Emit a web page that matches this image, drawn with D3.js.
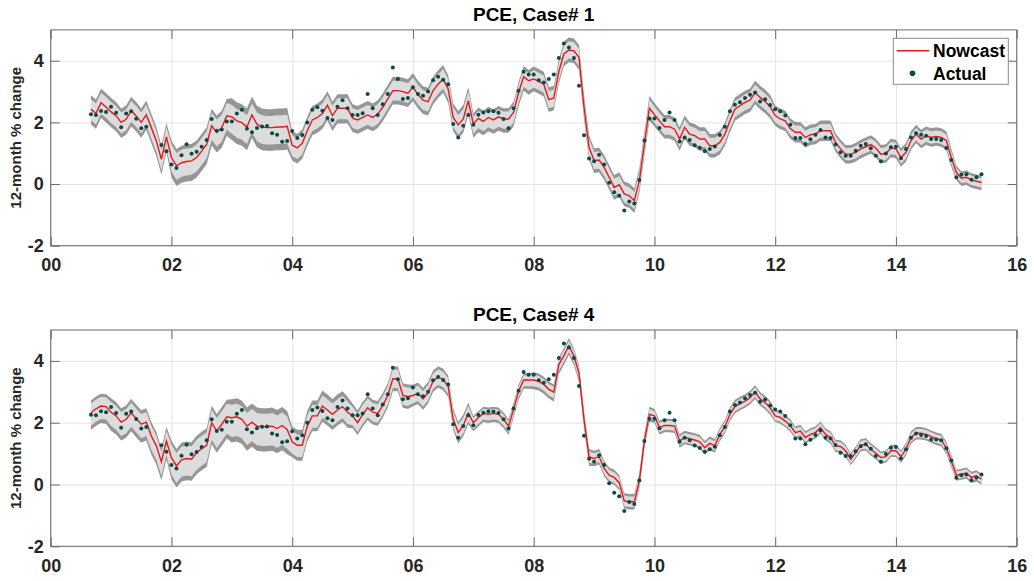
<!DOCTYPE html>
<html><head><meta charset="utf-8">
<script src="https://cdn.jsdelivr.net/npm/d3@7"></script>
<style>
body{margin:0;background:#fff}
svg{font-family:"Liberation Sans",Arial,Helvetica,sans-serif}
</style></head>
<body><svg id="c" width="1034" height="581"></svg>
<script>
// Monthly data, Sep 2000 .. Jun 2015
const startMonth = 8; // months after Jan 2000 (Sep 2000)
const actual = [
 2.26,2.24,2.37,2.34,
 2.51,2.31,1.84,2.29,2.36,2.12,1.81,1.86,null,null,1.27,1.06,
 0.63,0.52,0.93,1.29,0.98,1.05,1.21,1.43,2.11,1.73,1.77,2.03,
 2.03,2.29,2.41,1.79,1.68,1.82,1.87,1.88,1.65,1.60,1.37,1.40,
 1.72,1.49,1.59,2.00,2.41,2.49,2.38,2.14,2.08,2.51,2.72,2.46,
 2.24,2.24,2.30,2.92,2.46,2.24,2.59,2.92,3.78,3.41,2.76,2.79,
 3.14,2.92,2.86,3.00,3.37,3.48,3.38,3.24,1.95,1.51,1.89,2.24,
 1.92,2.25,2.32,2.36,2.36,2.31,2.11,1.81,2.46,3.03,3.64,3.55,
 3.55,3.37,3.29,3.41,3.55,4.09,4.56,4.43,4.09,3.19,1.58,0.83,
 0.74,0.95,0.63,0.04,-0.27,-0.38,-0.86,-0.57,-0.63,0.13,1.41,2.13,
 2.13,1.82,2.08,2.32,2.08,1.38,1.51,1.43,1.26,1.18,1.06,1.14,
 1.22,1.59,1.86,2.36,2.57,2.65,2.79,2.90,2.97,2.68,2.75,2.56,
 2.43,2.36,2.22,1.92,1.49,1.49,1.30,1.45,1.60,1.75,1.51,1.49,
 1.28,1.03,0.92,0.92,1.08,1.24,1.30,1.16,0.92,0.74,0.99,1.19,
 1.21,0.84,1.14,1.51,1.65,1.60,1.57,1.46,1.46,1.43,1.17,0.78,
 0.22,0.30,0.32,0.14,0.22,0.32
];
const nowcast1 = [
 2.43,2.29,2.64,2.50,
 2.34,2.21,2.00,2.10,2.37,2.21,2.00,2.25,1.83,1.40,0.80,1.53,
 0.86,0.59,0.69,0.73,0.75,0.86,1.07,1.29,1.89,1.67,1.83,2.21,
 2.18,2.05,1.99,1.85,2.24,1.94,1.85,1.83,1.83,1.85,1.85,1.87,
 1.26,1.17,1.32,1.73,2.08,2.16,2.29,2.56,2.22,2.46,2.46,2.46,
 2.14,2.08,2.16,2.24,2.16,2.27,2.49,2.76,3.03,3.03,3.00,2.95,
 3.14,2.90,2.72,2.67,3.03,3.24,3.41,3.08,2.16,1.92,2.11,2.70,
 1.95,2.13,2.03,2.16,2.08,2.18,2.11,2.11,2.32,2.97,3.48,3.35,
 3.41,3.33,3.24,2.74,2.79,3.65,4.22,4.35,4.32,4.11,2.49,1.19,
 0.76,0.78,0.54,0.22,-0.11,-0.02,-0.32,-0.38,-0.54,0.11,1.30,2.46,
 2.25,2.05,1.86,1.86,1.78,1.46,1.84,1.62,1.57,1.46,1.46,1.24,
 1.24,1.35,1.62,2.05,2.43,2.54,2.65,2.72,2.97,2.81,2.68,2.51,
 2.22,2.11,2.05,1.80,1.68,1.68,1.51,1.60,1.62,1.73,1.73,1.73,
 1.35,1.14,0.97,0.97,1.03,1.14,1.21,1.28,1.17,0.97,0.99,1.17,
 1.14,0.86,1.03,1.41,1.62,1.46,1.57,1.51,1.54,1.51,1.41,0.86,
 0.38,0.19,0.22,0.13,0.09,0.05
];
const nowcast4 = [
 2.32,2.45,2.54,2.52,
 2.34,2.22,2.02,2.11,2.32,2.13,1.95,2.02,1.57,1.25,0.73,1.41,
 0.87,0.60,0.80,0.84,0.82,1.03,1.16,1.27,2.00,1.73,1.95,2.19,
 2.16,2.19,2.11,1.89,2.02,1.89,1.87,1.87,1.89,1.81,1.91,1.78,
 1.38,1.27,1.27,1.89,2.22,2.22,2.54,2.41,2.27,2.41,2.52,2.34,
 2.22,2.00,2.27,2.48,2.34,2.30,2.56,2.88,3.42,3.42,2.88,2.84,
 2.88,2.95,2.77,2.97,3.34,3.48,3.40,3.18,2.11,1.68,1.91,2.30,
 2.00,2.16,2.30,2.27,2.30,2.27,2.11,1.89,2.43,3.02,3.38,3.38,
 3.38,3.34,3.24,3.08,2.99,3.88,4.17,4.49,4.15,3.61,2.11,0.90,
 0.84,0.90,0.52,0.30,0.23,0.06,-0.53,-0.56,-0.56,0.12,1.41,2.27,
 2.22,1.84,1.91,1.91,1.89,1.41,1.52,1.48,1.44,1.38,1.19,1.33,
 1.25,1.62,1.87,2.27,2.52,2.62,2.70,2.81,2.99,2.77,2.65,2.48,
 2.22,2.17,2.05,1.91,1.68,1.73,1.52,1.62,1.68,1.84,1.62,1.52,
 1.25,1.23,1.09,0.82,1.03,1.27,1.30,1.14,1.01,0.87,0.90,1.09,
 1.09,0.90,1.14,1.52,1.66,1.66,1.62,1.55,1.48,1.44,1.19,0.76,
 0.30,0.33,0.37,0.23,0.28,0.17
];
// Band offsets from the nowcast, per calendar year 2000..2015
const outerUp1 = [0.45,0.45,0.55,0.60,0.45,0.45,0.45,0.35,0.40,0.40,0.38,0.38,0.33,0.30,0.30,0.22];
const innerUp1 = [0.32,0.32,0.42,0.38,0.32,0.32,0.32,0.24,0.28,0.28,0.26,0.26,0.22,0.20,0.20,0.14];
const innerLo1 = [0.36,0.36,0.45,0.55,0.36,0.32,0.32,0.32,0.28,0.28,0.26,0.26,0.22,0.20,0.20,0.16];
const outerLo1 = [0.50,0.50,0.65,0.75,0.50,0.45,0.45,0.45,0.40,0.40,0.38,0.38,0.33,0.30,0.30,0.25];
const outerUp4 = [0.40,0.45,0.55,0.60,0.50,0.40,0.35,0.22,0.25,0.25,0.22,0.22,0.20,0.20,0.20,0.18];
const innerUp4 = [0.30,0.33,0.42,0.42,0.35,0.30,0.25,0.15,0.17,0.17,0.15,0.15,0.14,0.14,0.14,0.12];
const innerLo4 = [0.42,0.45,0.55,0.62,0.38,0.30,0.25,0.20,0.20,0.17,0.15,0.15,0.14,0.14,0.14,0.12];
const outerLo4 = [0.55,0.60,0.70,0.80,0.50,0.40,0.35,0.28,0.30,0.25,0.22,0.22,0.20,0.20,0.20,0.18];

const xTicks = [0,2,4,6,8,10,12,14,16];
const xTickLabels = ["00","02","04","06","08","10","12","14","16"];
const yTicks = [-2,0,2,4];
const yTickLabels = ["-2","0","2","4"];
const titles = ["PCE, Case# 1","PCE, Case# 4"];
const yLabel = "12-month % change";
const legendLabels = ["Nowcast","Actual"];

const svg = d3.select("#c");
svg.append("rect").attr("width",1034).attr("height",581).attr("fill","#fff");

const L = 50.7, R = 1016.7;
const panels = [
  {top:29.9, bottom:245.7, now:nowcast1, oU:outerUp1, iU:innerUp1, iL:innerLo1, oL:outerLo1, title:titles[0], legend:true},
  {top:330.0, bottom:546.3, now:nowcast4, oU:outerUp4, iU:innerUp4, iL:innerLo4, oL:outerLo4, title:titles[1], legend:false}
];
const x = d3.scaleLinear().domain([0,16]).range([L,R]);
const tOf = i => (startMonth + i)/12;
const yr = i => Math.floor((startMonth + i)/12);
const TXT = "#262626";

panels.forEach(p => {
  const y = d3.scaleLinear().domain([-2,5]).range([p.bottom,p.top]);
  const g = svg.append("g");
  const w = R - L, h = p.bottom - p.top;
  // grid
  const gx = g.append("g").attr("transform",`translate(0,${p.bottom})`)
    .call(d3.axisBottom(x).tickValues(xTicks).tickSize(-h).tickFormat(""));
  const gy = g.append("g").attr("transform",`translate(${L},0)`)
    .call(d3.axisLeft(y).tickValues(yTicks).tickSize(-w).tickFormat(""));
  [gx,gy].forEach(a=>{a.select(".domain").remove(); a.selectAll("line").attr("stroke","#e4e4e4").attr("stroke-width",1);});

  const idx = d3.range(p.now.length);
  const outer = d3.area().x(i=>x(tOf(i))).y0(i=>y(p.now[i]-p.oL[yr(i)])).y1(i=>y(p.now[i]+p.oU[yr(i)]));
  const inner = d3.area().x(i=>x(tOf(i))).y0(i=>y(p.now[i]-p.iL[yr(i)])).y1(i=>y(p.now[i]+p.iU[yr(i)]));
  g.append("path").datum(idx).attr("d",outer).attr("fill","#969696");
  g.append("path").datum(idx).attr("d",inner).attr("fill","#dcdcdc");
  const line = d3.line().x(i=>x(tOf(i))).y(i=>y(p.now[i]));
  g.append("path").datum(idx).attr("d",line).attr("fill","none").attr("stroke","#e31a1c").attr("stroke-width",1.4);
  g.append("g").selectAll("circle").data(idx.filter(i=>actual[i]!==null)).join("circle")
    .attr("cx",i=>x(tOf(i))).attr("cy",i=>y(actual[i])).attr("r",2).attr("fill","#0a4a4a");

  // axes with inward ticks
  const ax = [
    g.append("g").attr("transform",`translate(0,${p.bottom})`)
      .call(d3.axisBottom(x).tickValues(xTicks).tickSize(-9).tickSizeOuter(0).tickPadding(13).tickFormat((d,i)=>xTickLabels[i])),
    g.append("g").attr("transform",`translate(0,${p.top})`)
      .call(d3.axisTop(x).tickValues(xTicks).tickSize(-9).tickSizeOuter(0).tickFormat("")),
    g.append("g").attr("transform",`translate(${L},0)`)
      .call(d3.axisLeft(y).tickValues(yTicks).tickSize(-9).tickSizeOuter(0).tickPadding(7).tickFormat((d,i)=>yTickLabels[i])),
    g.append("g").attr("transform",`translate(${R},0)`)
      .call(d3.axisRight(y).tickValues(yTicks).tickSize(-9).tickSizeOuter(0).tickFormat(""))
  ];
  ax.forEach(a=>{
    a.select(".domain").remove();
    a.selectAll("line").attr("stroke","#6a6a6a");
    a.selectAll("text").attr("fill",TXT).attr("font-size",18).attr("font-weight","bold")
      .attr("font-family",'"Liberation Sans",Arial,sans-serif');
  });
  g.append("rect").attr("x",L).attr("y",p.top).attr("width",w).attr("height",h)
    .attr("fill","none").attr("stroke","#6a6a6a").attr("stroke-width",1);

  g.append("text").attr("x",(L+R)/2).attr("y",p.top-9.2).attr("text-anchor","middle")
    .attr("font-size",19).attr("font-weight","bold").attr("fill","#000").text(p.title);
  g.append("text").attr("transform",`translate(20.5,${(p.top+p.bottom)/2}) rotate(-90)`)
    .attr("text-anchor","middle").attr("font-size",15).attr("font-weight","bold").attr("fill",TXT).text(yLabel);

  if (p.legend) {
    const lg = g.append("g");
    lg.append("rect").attr("x",893.3).attr("y",38.3).attr("width",115).attr("height",46)
      .attr("fill","#fff").attr("stroke","#8a8a8a").attr("stroke-width",1);
    lg.append("line").attr("x1",896.7).attr("x2",929.3).attr("y1",50.7).attr("y2",50.7)
      .attr("stroke","#e31a1c").attr("stroke-width",1.4);
    lg.append("circle").attr("cx",912.5).attr("cy",73.3).attr("r",2.8).attr("fill","#0a4a4a");
    lg.append("text").attr("x",933).attr("y",57).attr("font-size",17.5).attr("font-weight","bold").attr("fill","#000").text(legendLabels[0]);
    lg.append("text").attr("x",933).attr("y",79.5).attr("font-size",17.5).attr("font-weight","bold").attr("fill","#000").text(legendLabels[1]);
  }
});
</script></body></html>
